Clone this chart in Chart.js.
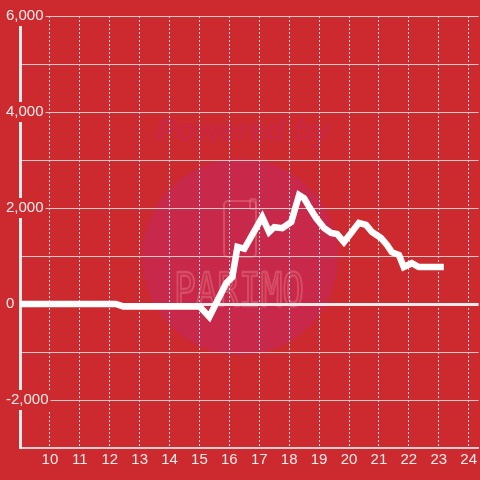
<!DOCTYPE html>
<html>
<head>
<meta charset="utf-8">
<script src="https://cdn.jsdelivr.net/npm/chart.js@4/dist/chart.umd.min.js"></script>
<style>
  html, body { margin: 0; padding: 0; background: #cc2a2e; }
  #wrap { width: 480px; height: 480px; }
</style>
</head>
<body>
<div id="wrap"><canvas id="c" width="480" height="480"></canvas></div>
<script>
// ---- data ----
const hours = [9.0, 12.2, 12.45, 15.0, 15.33, 15.57, 15.9, 16.1, 16.27, 16.5, 17.1, 17.33, 17.5, 17.77, 18.07, 18.33, 18.5, 18.67, 18.9, 19.17, 19.4, 19.6, 19.83, 20.07, 20.33, 20.57, 20.77, 21.07, 21.27, 21.43, 21.67, 21.83, 22.1, 22.33, 23.17];
const values = [0, 0, -50, -50, -270, 30, 440, 560, 1190, 1150, 1810, 1500, 1600, 1580, 1710, 2270, 2200, 2020, 1790, 1580, 1480, 1460, 1290, 1480, 1690, 1650, 1500, 1375, 1230, 1080, 1020, 770, 850, 770, 770];
const xTicks = [10, 11, 12, 13, 14, 15, 16, 17, 18, 19, 20, 21, 22, 23, 24];
const yLabelled = [-2000, 0, 2000, 4000, 6000];

const BG = '#cc2a2e';

const watermark = {
  id: 'watermark',
  beforeDraw(chart) {
    const ctx = chart.ctx;
    ctx.save();
    ctx.fillStyle = BG;
    ctx.fillRect(0, 0, chart.width, chart.height);
    // circle
    ctx.fillStyle = '#c8284a';
    ctx.beginPath();
    ctx.arc(240, 257, 98, 0, Math.PI * 2);
    ctx.fill();
    // Powered by
    ctx.fillStyle = '#c92742';
    ctx.font = 'italic bold 31px "Liberation Sans", Arial, sans-serif';
    ctx.textAlign = 'center';
    ctx.textBaseline = 'alphabetic';
    ctx.fillText('Powered by', 243, 141);
    // icon
    ctx.strokeStyle = 'rgba(225,110,125,0.55)';
    ctx.lineWidth = 2;
    ctx.beginPath();
    ctx.roundRect(224, 201, 32, 56, 4);
    ctx.stroke();
    ctx.beginPath();
    ctx.roundRect(250, 199, 6, 10, 2);
    ctx.stroke();
    // PARIMO
    ctx.save();
    ctx.translate(239, 306);
    ctx.scale(1, 1.3);
    ctx.font = '36px "DejaVu Sans Mono", monospace';
    ctx.lineWidth = 1.8;
    ctx.strokeText('PARIMO', 0, 0);
    ctx.restore();
    ctx.restore();
  }
};

new Chart(document.getElementById('c'), {
  type: 'line',
  data: {
    datasets: [{
      data: hours.map((h, i) => ({ x: h, y: values[i] })),
      borderColor: '#ffffff',
      borderWidth: 6.5,
      pointRadius: 0,
      tension: 0,
      fill: false,
      borderCapStyle: 'butt'
    }]
  },
  options: {
    responsive: false,
    animation: false,
    devicePixelRatio: 1,
    layout: { padding: { top: 16, left: 6, right: 0, bottom: 0 } },
    plugins: { legend: { display: false }, tooltip: { enabled: false } },
    scales: {
      x: {
        type: 'linear',
        min: 9,
        max: 24 + 1 / 3,
        afterBuildTicks: (s) => { s.ticks = xTicks.map(v => ({ value: v })); },
        afterFit: (s) => { s.height = 32; },
        grid: { color: '#e2dcdc', lineWidth: 1, drawTicks: false },
        border: { display: true, color: '#d8d0d0', width: 1.5, dash: [2, 2] },
        ticks: {
          color: '#f6ecec',
          font: { family: '"Liberation Sans", Arial, sans-serif', size: 15 },
          padding: 3,
          autoSkip: false,
          maxRotation: 0
        }
      },
      y: {
        min: -3000,
        max: 6000,
        afterBuildTicks: (s) => {
          const t = [];
          for (let v = -3000; v <= 6000; v += 1000) t.push({ value: v });
          s.ticks = t;
        },
        afterFit: (s) => { s.width = 14; },
        grid: {
          color: (c) => c.tick && c.tick.value === 0 ? '#eeeaea' : '#cfc9c9',
          lineWidth: (c) => c.tick && c.tick.value === 0 ? 3 : 1,
          drawTicks: false
        },
        border: { display: true, color: '#eeeaea', width: 3 },
        ticks: {
          color: '#f6ecec',
          font: { family: '"Liberation Sans", Arial, sans-serif', size: 15 },
          mirror: true,
          padding: -14,
          crossAlign: 'near',
          autoSkip: false,
          showLabelBackdrop: (c) => yLabelled.includes(c.tick.value),
          backdropColor: BG,
          backdropPadding: { top: 1, bottom: 1, left: 2, right: 2 },
          callback: (v) => yLabelled.includes(v) ? v.toLocaleString('en-US') : ''
        }
      }
    }
  },
  plugins: [watermark]
});
</script>
</body>
</html>
